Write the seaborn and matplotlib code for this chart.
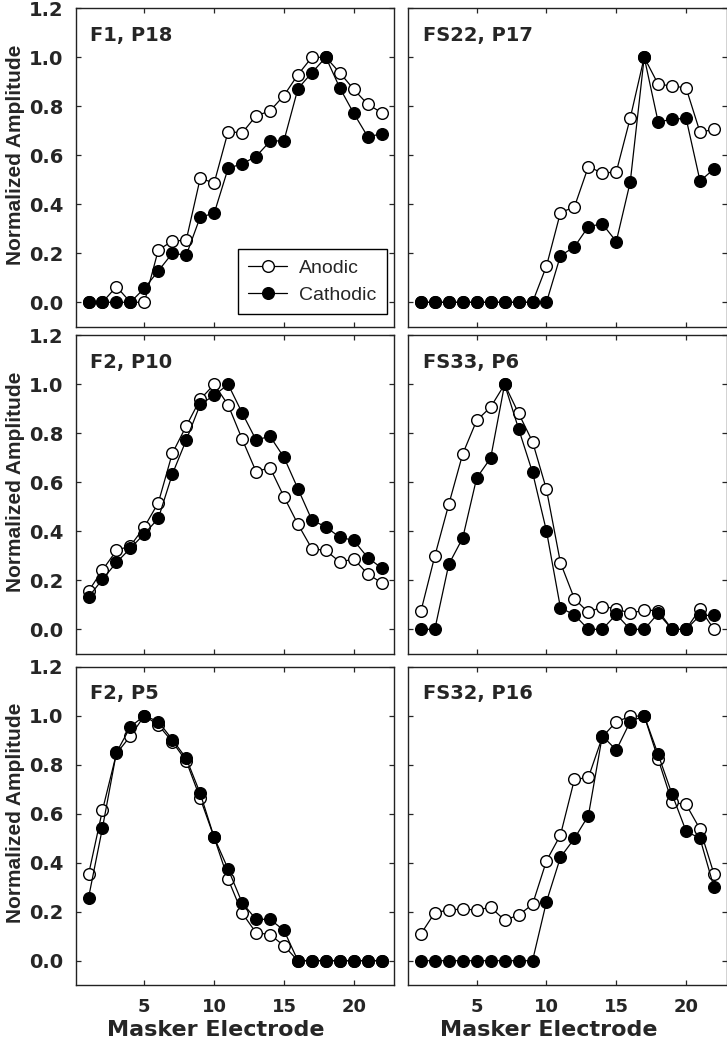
import pandas as pd
import seaborn as sns
import matplotlib.pyplot as plt

# masker electrode numbers (x axis)
electrodes = [1, 2, 3, 4, 5, 6, 7, 8, 9, 10, 11, 12, 13, 14, 15, 16, 17, 18, 19, 20, 21, 22]

# panel titles, in reading order
titles = ['F1, P18', 'FS22, P17', 'F2, P10', 'FS33, P6', 'F2, P5', 'FS32, P16']

# normalized amplitudes
f1_p18_anodic = [0, 0, 0.064, 0, 0, 0.214, 0.249, 0.254, 0.506, 0.487, 0.697, 0.691,
                 0.761, 0.781, 0.844, 0.929, 1.0, 1.0, 0.937, 0.869, 0.808, 0.774]
f1_p18_cathodic = [0, 0, 0, 0, 0.057, 0.128, 0.2, 0.192, 0.348, 0.363, 0.547, 0.565,
                   0.595, 0.657, 0.66, 0.872, 0.937, 1.0, 0.875, 0.771, 0.676, 0.687]

fs22_p17_anodic = [0, 0, 0, 0, 0, 0, 0, 0, 0, 0.148, 0.366, 0.389,
                   0.554, 0.527, 0.532, 0.752, 1.0, 0.89, 0.883, 0.875, 0.694, 0.706]
fs22_p17_cathodic = [0, 0, 0, 0, 0, 0, 0, 0, 0, 0, 0.19, 0.226,
                     0.309, 0.32, 0.248, 0.491, 1.0, 0.736, 0.747, 0.751, 0.495, 0.544]

f2_p10_anodic = [0.156, 0.242, 0.322, 0.341, 0.418, 0.517, 0.718, 0.83, 0.939, 1.0, 0.916, 0.777,
                 0.644, 0.66, 0.541, 0.429, 0.329, 0.322, 0.275, 0.287, 0.226, 0.19]
f2_p10_cathodic = [0.132, 0.204, 0.273, 0.331, 0.39, 0.453, 0.633, 0.773, 0.918, 0.955, 1.0, 0.884,
                   0.773, 0.788, 0.702, 0.574, 0.446, 0.418, 0.376, 0.363, 0.293, 0.25]

fs33_p6_anodic = [0.073, 0.299, 0.51, 0.716, 0.853, 0.907, 1.0, 0.882, 0.766, 0.571, 0.272, 0.125,
                  0.069, 0.093, 0.084, 0.065, 0.079, 0.076, 0, 0, 0.084, 0.0]
fs33_p6_cathodic = [0, 0, 0.265, 0.373, 0.618, 0.699, 1.0, 0.819, 0.641, 0.401, 0.088, 0.059,
                    0, 0, 0.061, 0, 0, 0.065, 0, 0, 0.057, 0.057]

f2_p5_anodic = [0.352, 0.615, 0.846, 0.917, 1.0, 0.962, 0.894, 0.815, 0.663, 0.503, 0.333, 0.195,
                0.114, 0.107, 0.061, 0, 0, 0, 0, 0, 0, 0]
f2_p5_cathodic = [0.257, 0.543, 0.85, 0.955, 1.0, 0.976, 0.903, 0.826, 0.683, 0.503, 0.374, 0.237,
                  0.169, 0.169, 0.124, 0, 0, 0, 0, 0, 0, 0]

fs32_p16_anodic = [0.109, 0.196, 0.207, 0.211, 0.207, 0.218, 0.166, 0.186, 0.23, 0.408, 0.513, 0.74,
                   0.748, 0.913, 0.976, 0.997, 1.0, 0.823, 0.646, 0.638, 0.537, 0.354]
fs32_p16_cathodic = [0, 0, 0, 0, 0, 0, 0, 0, 0, 0.241, 0.422, 0.499,
                     0.592, 0.918, 0.86, 0.976, 1.0, 0.842, 0.679, 0.529, 0.499, 0.299]

anodic = [f1_p18_anodic, fs22_p17_anodic, f2_p10_anodic, fs33_p6_anodic, f2_p5_anodic, fs32_p16_anodic]
cathodic = [f1_p18_cathodic, fs22_p17_cathodic, f2_p10_cathodic, fs33_p6_cathodic, f2_p5_cathodic, fs32_p16_cathodic]

y_ticks = [0.0, 0.2, 0.4, 0.6, 0.8, 1.0, 1.2]
x_ticks = [5, 10, 15, 20]

sns.set_style('ticks')
plt.rcParams['font.family'] = ['DejaVu Sans']

fig = plt.figure(figsize=(7.27, 10.5), dpi=100)

# axes rectangles (figure fractions)
col_x = [0.1045, 0.5616]
row_y = [0.6888, 0.3773, 0.0617]
w, h = 0.4378, 0.3033

for i, title in enumerate(titles):
    row, col = divmod(i, 2)
    ax = fig.add_axes([col_x[col], row_y[row], w, h])

    df = pd.DataFrame({'electrode': electrodes, 'anodic': anodic[i], 'cathodic': cathodic[i]})
    sns.lineplot(data=df, x='electrode', y='anodic', ax=ax, color='black', lw=0.9,
                 marker='o', markersize=8.4, markerfacecolor='white', markeredgecolor='black',
                 markeredgewidth=1.0, estimator=None, label='Anodic')
    sns.lineplot(data=df, x='electrode', y='cathodic', ax=ax, color='black', lw=0.9,
                 marker='o', markersize=8.4, markerfacecolor='black', markeredgecolor='black',
                 markeredgewidth=1.0, estimator=None, label='Cathodic')

    ax.set_xlim(0.1, 22.9)
    ax.set_ylim(-0.1, 1.2)
    ax.set_xticks(x_ticks)
    ax.set_yticks(y_ticks)
    ax.tick_params(direction='in', length=3.5, width=0.9, top=True, right=True, pad=9)
    ax.tick_params(axis='x', labelsize=13)
    ax.tick_params(axis='y', labelsize=14)
    for s in ax.spines.values():
        s.set_linewidth(1.0)
        s.set_color('#222222')

    ax.text(0.045, 0.945, title, transform=ax.transAxes, fontsize=14,
            fontweight='bold', ha='left', va='top')

    if col == 0:
        ax.set_yticklabels([f'{v:.1f}' for v in y_ticks], fontweight='bold')
        ax.set_ylabel('Normalized Amplitude', fontsize=15, fontweight='bold',
                      family='Liberation Sans')
        ax.yaxis.set_label_coords(-0.16, 0.54)
    else:
        ax.set_yticklabels([])
        ax.set_ylabel('')

    if row == 2:
        ax.set_xticklabels([str(v) for v in x_ticks], fontweight='bold')
        ax.set_xlabel('Masker Electrode', fontsize=16, fontweight='bold')
        ax.xaxis.set_label_coords(0.44, -0.11)
    else:
        ax.set_xticklabels([])
        ax.set_xlabel('')

    if i == 0:
        leg = ax.legend(loc='lower right', bbox_to_anchor=(0.977, 0.039), borderaxespad=0,
                        fancybox=False, edgecolor='black', framealpha=1, handlelength=2.0,
                        labelspacing=0.45, borderpad=0.55, handletextpad=0.6,
                        prop={'family': 'Liberation Sans', 'size': 14})
        leg.get_frame().set_linewidth(1.0)
    else:
        ax.get_legend().remove()

fig.savefig('out.png', dpi=100)
